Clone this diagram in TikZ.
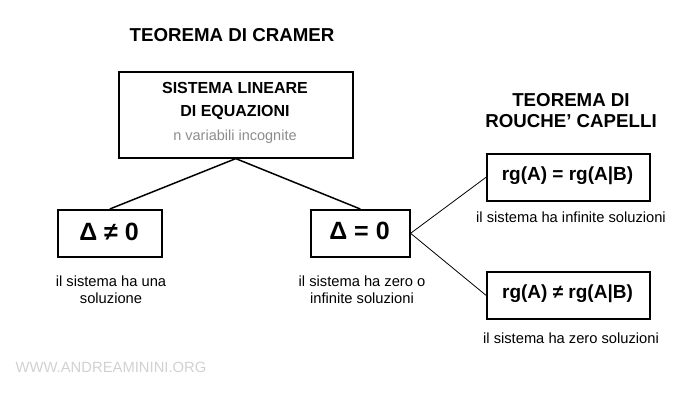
\documentclass[tikz,border=0pt]{standalone}
\usepackage{fontspec}
\setmainfont{Liberation Sans}
\begin{document}
\begin{tikzpicture}[x=1pt,y=-1pt,
  box/.style={draw,line width=1.6pt,inner sep=0pt,anchor=north west},
  title/.style={font=\fontsize{18.7}{21}\selectfont\bfseries,align=center},
  note/.style={font=\fontsize{14.7}{17}\selectfont,align=center},
  conn/.style={line width=1.5pt},
  thin/.style={line width=0.8pt}]
\useasboundingbox (0,0) rectangle (700,408);
\node[title] (t1) at (232,35) {TEOREMA DI CRAMER};
\node[box,minimum width=234pt,minimum height=86pt] (sys) at (118,71) {};
\node[font=\fontsize{16}{23}\selectfont\bfseries,align=center] (syst) at (235,101) {SISTEMA LINEARE\\DI EQUAZIONI};
\node[font=\fontsize{14.5}{17}\selectfont,text=black!45] (var) at (235,137) {n variabili incognite};
\node[box,minimum width=104pt,minimum height=47pt] (d1) at (57,209) {};
\node[font=\fontsize{25}{26}\selectfont\bfseries] (d1t) at (109,232) {Δ ≠ 0};
\node[box,minimum width=99pt,minimum height=47pt] (d2) at (310,209) {};
\node[font=\fontsize{25}{26}\selectfont\bfseries] (d2t) at (359.5,231) {Δ = 0};
\node[title] (t2) at (571,111) {TEOREMA DI\\ROUCHE’ CAPELLI};
\node[box,minimum width=163pt,minimum height=47pt] (r1) at (486,153) {};
\node[font=\fontsize{19}{21}\selectfont\bfseries] (r1t) at (567.5,176) {rg(A) = rg(A|B)};
\node[box,minimum width=163pt,minimum height=47pt] (r2) at (486,271) {};
\node[font=\fontsize{19}{21}\selectfont\bfseries] (r2t) at (567.5,294) {rg(A) ≠ rg(A|B)};
\node[note] (n1) at (111,290) {il sistema ha una\\soluzione};
\node[note] (n2) at (362,290) {il sistema ha zero o\\infinite soluzioni};
\node[note] (n3) at (571,217) {il sistema ha infinite soluzioni};
\node[note] (n4) at (571,338) {il sistema ha zero soluzioni};
\node[font=\fontsize{14.8}{17}\selectfont,text=black!18] (wm) at (111,367) {WWW.ANDREAMININI.ORG};
\draw[conn] (sys.south) -- (d1.north);
\draw[conn] (sys.south) -- (d2.north);
\draw[thin] (d2.east) -- (r1.west);
\draw[thin] (d2.east) -- (r2.west);
\end{tikzpicture}
\end{document}
